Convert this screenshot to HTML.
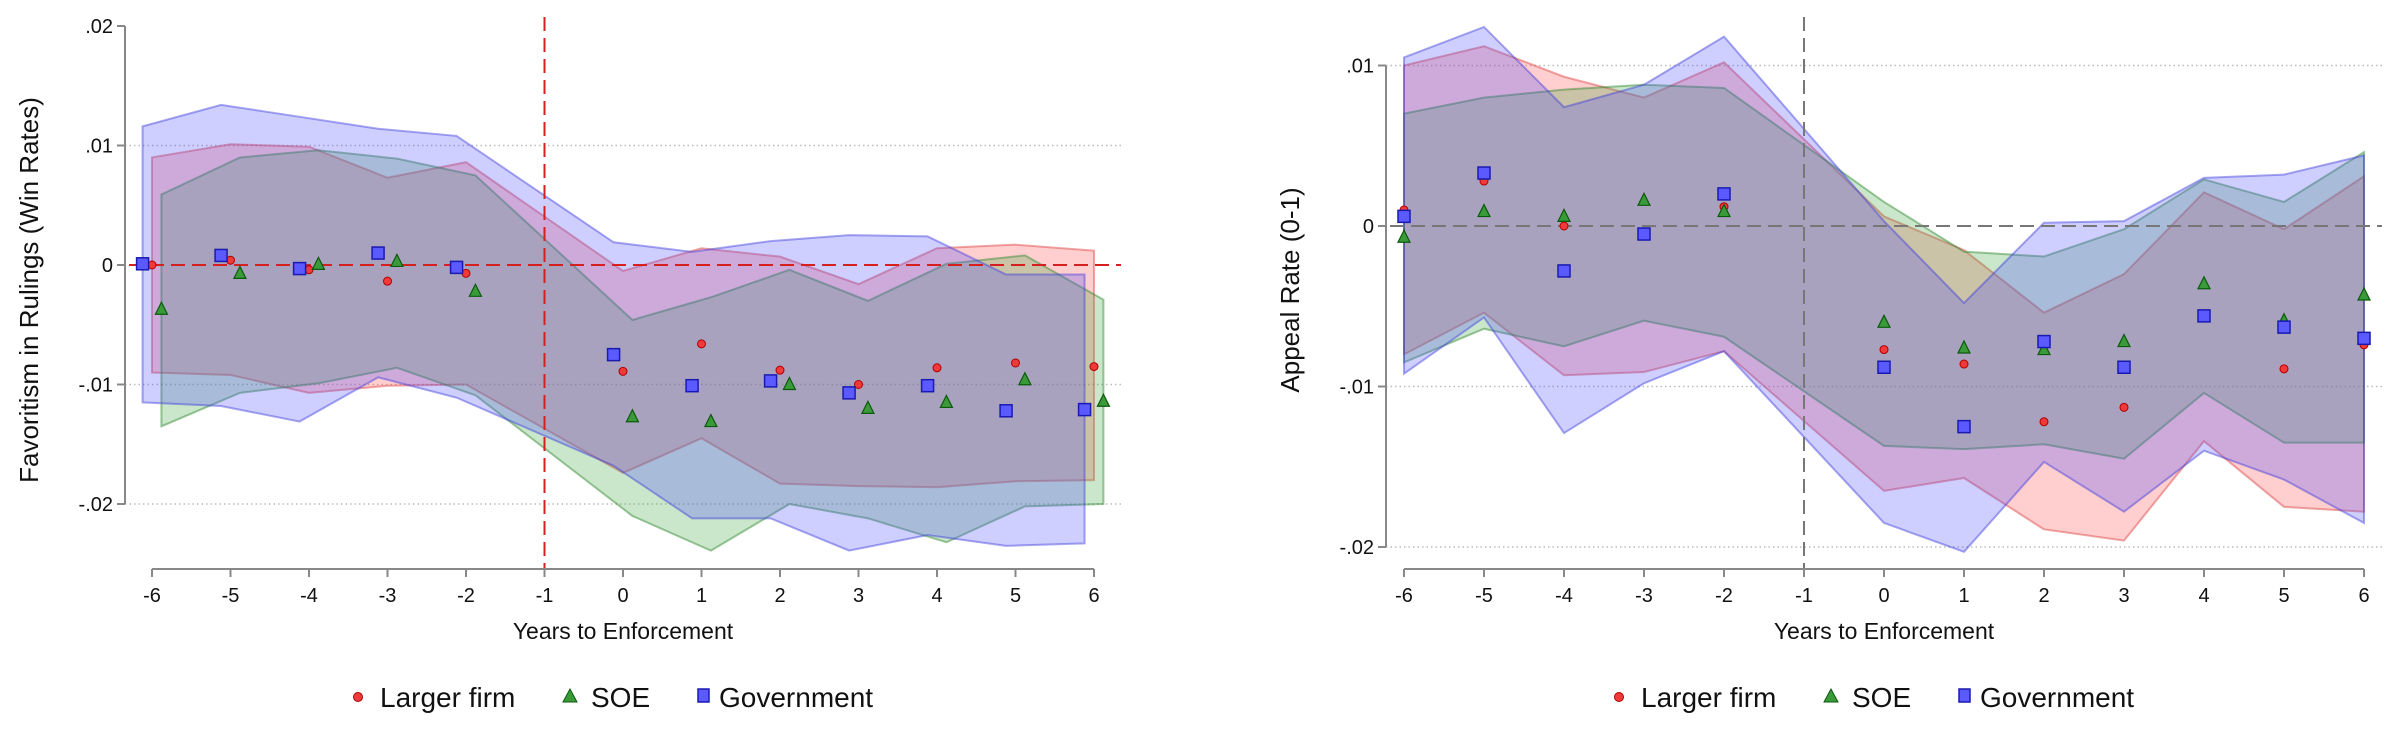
<!DOCTYPE html>
<html><head><meta charset="utf-8">
<style>
html,body{margin:0;padding:0;background:#fff;}
svg{display:block;font-family:"Liberation Sans",Arial,sans-serif;}
</style></head>
<body>
<svg id="chart" width="2400" height="746" viewBox="0 0 2400 746" xmlns="http://www.w3.org/2000/svg"></svg>
<script>
// ---------- data (values in units of 0.001) ----------
const years = [-6,-5,-4,-3,-2,0,1,2,3,4,5,6];
const xTicks = [-6,-5,-4,-3,-2,-1,0,1,2,3,4,5,6];

// Left panel: favoritism in rulings
const L_firm = [0,0.4,-0.4,-1.35,-0.7,-8.9,-6.6,-8.8,-10.0,-8.6,-8.2,-8.5];
const L_soe  = [-3.7,-0.7,0.05,0.3,-2.2,-12.7,-13.1,-10.0,-12.0,-11.5,-9.6,-11.4];
const L_gov  = [0.1,0.8,-0.3,1.0,-0.2,-7.5,-10.1,-9.7,-10.7,-10.1,-12.2,-12.1];
const L_firm_hi = [9.0,10.1,9.9,7.3,8.6,-0.5,1.4,0.7,-1.6,1.4,1.7,1.2];
const L_firm_lo = [-9.0,-9.2,-10.7,-10.1,-10.0,-17.4,-14.5,-18.3,-18.5,-18.6,-18.1,-18.0];
const L_soe_hi  = [5.9,9.0,9.6,8.9,7.5,-4.6,-2.7,-0.4,-3.0,0.1,0.8,-2.9];
const L_soe_lo  = [-13.5,-10.7,-9.9,-8.6,-10.9,-21.0,-23.9,-20.0,-21.2,-23.2,-20.2,-20.0];
const L_gov_hi  = [11.6,13.4,12.4,11.4,10.8,1.9,1.1,2.0,2.5,2.4,-0.8,-0.8];
const L_gov_lo  = [-11.5,-11.8,-13.1,-9.4,-11.1,-16.8,-21.2,-21.2,-23.9,-22.6,-23.5,-23.3];
const L_yTicks = [20,10,0,-10,-20];
const L_yLabels = [".02",".01","0","-.01","-.02"];

// Right panel: appeal rate
const R_firm = [1.0,2.8,0,-0.6,1.2,-7.7,-8.6,-12.2,-11.3,-5.6,-8.9,-7.4];
const R_soe  = [-0.7,0.9,0.6,1.6,0.9,-6.0,-7.6,-7.7,-7.2,-3.6,-5.9,-4.3];
const R_gov  = [0.6,3.3,-2.8,-0.5,2.0,-8.8,-12.5,-7.2,-8.8,-5.6,-6.3,-7.0];
const R_firm_hi = [10.0,11.2,9.3,8.0,10.2,0.6,-1.5,-5.4,-3.0,2.1,-0.2,3.1];
const R_firm_lo = [-8.0,-5.4,-9.3,-9.1,-7.8,-16.5,-15.7,-18.9,-19.6,-13.4,-17.5,-17.8];
const R_soe_hi  = [7.0,8.0,8.5,8.8,8.6,1.5,-1.6,-1.9,-0.2,2.9,1.5,4.6];
const R_soe_lo  = [-8.5,-6.4,-7.5,-5.9,-6.9,-13.7,-13.9,-13.6,-14.5,-10.4,-13.5,-13.5];
const R_gov_hi  = [10.5,12.4,7.4,8.8,11.8,0.3,-4.8,0.2,0.3,3.0,3.2,4.4];
const R_gov_lo  = [-9.2,-5.7,-12.9,-9.8,-7.8,-18.5,-20.3,-14.7,-17.8,-14.0,-15.8,-18.5];
const R_yTicks = [10,0,-10,-20];
const R_yLabels = [".01","0","-.01","-.02"];

const NS="http://www.w3.org/2000/svg";
const svg=document.getElementById('chart');
function mk(tag,attrs,parent){const e=document.createElementNS(NS,tag);for(const k in attrs)e.setAttribute(k,attrs[k]);(parent||svg).appendChild(e);return e;}

const COL={firm:{fill:'rgba(255,80,80,0.28)',line:'rgba(220,60,60,0.45)',mf:'#f03a3a',ms:'#b00000'},
 soe:{fill:'rgba(70,170,70,0.28)',line:'rgba(40,130,40,0.45)',mf:'#3a9a3a',ms:'#0b5a0b'},
 gov:{fill:'rgba(80,80,255,0.28)',line:'rgba(60,60,220,0.45)',mf:'#5a5aff',ms:'#1a1ab0'}};

function panel(cfg){
  const g=mk('g',{});
  
  
  const X=v=>cfg.x0+(v+6)*(cfg.x1-cfg.x0)/12;
  const Y=v=>cfg.y0-v*cfg.pxPerUnit;
  cfg.grid.forEach(v=>{const l=mk('line',{x1:cfg.axX,x2:cfg.gridEnd,y1:Y(v),y2:Y(v),stroke:'#bbb','stroke-width':1.5,'stroke-dasharray':'1.5 3'},g);
    });
  const series=[['firm',cfg.firm,cfg.firm_hi,cfg.firm_lo,0],['soe',cfg.soe,cfg.soe_hi,cfg.soe_lo,cfg.off],['gov',cfg.gov,cfg.gov_hi,cfg.gov_lo,-cfg.off]];
  series.forEach(([k,pts,hi,lo,off])=>{
    let d='';years.forEach((yr,i)=>{d+=(i?'L':'M')+X(yr+off)+','+Y(hi[i]);});
    for(let i=years.length-1;i>=0;i--)d+='L'+X(years[i]+off)+','+Y(lo[i]);d+='Z';
    const p=mk('path',{d:d,fill:COL[k].fill,stroke:COL[k].line,'stroke-width':2},g);
    
  });
  const z=mk('line',{x1:cfg.axX+4,x2:cfg.gridEnd,y1:Y(0),y2:Y(0),stroke:cfg.refCol,'stroke-width':2,'stroke-dasharray':'14 7'},g);
  
  const v=mk('line',{x1:X(-1),x2:X(-1),y1:cfg.vTop,y2:cfg.axY,stroke:cfg.refCol,'stroke-width':2,'stroke-dasharray':'14 7'},g);
  
  series.forEach(([k,pts,hi,lo,off])=>{
    years.forEach((yr,i)=>{
      const cx=X(yr+off),cy=Y(pts[i]);let m;
      if(k==='firm')m=mk('circle',{cx:cx,cy:cy,r:4,fill:COL[k].mf,stroke:COL[k].ms,'stroke-width':1},g);
      else if(k==='soe')m=mk('polygon',{points:`${cx},${cy-7} ${cx-6},${cy+5} ${cx+6},${cy+5}`,fill:COL[k].mf,stroke:COL[k].ms,'stroke-width':1.2},g);
      else m=mk('rect',{x:cx-6,y:cy-6,width:12,height:12,fill:COL[k].mf,stroke:COL[k].ms,'stroke-width':1.5},g);
      
    });
  });
  const ya=mk('line',{x1:cfg.axX,x2:cfg.axX,y1:Y(cfg.yTicks[0]),y2:Y(cfg.yTicks[cfg.yTicks.length-1]),stroke:'#888','stroke-width':2},g);
  
  cfg.yTicks.forEach((t,i)=>{
    mk('line',{x1:cfg.axX-8,x2:cfg.axX,y1:Y(t),y2:Y(t),stroke:'#888','stroke-width':2},g);
    const tx=mk('text',{x:cfg.axX-12,y:Y(t)+7,'text-anchor':'end','font-size':20,fill:'#111'},g);
    tx.textContent=cfg.yLabels[i];
  });
  const xa=mk('line',{x1:X(-6),x2:X(6),y1:cfg.axY,y2:cfg.axY,stroke:'#888','stroke-width':2},g);
  
  xTicks.forEach(t=>{
    mk('line',{x1:X(t),x2:X(t),y1:cfg.axY,y2:cfg.axY+8,stroke:'#888','stroke-width':2},g);
    const tx=mk('text',{x:X(t),y:cfg.axY+33,'text-anchor':'middle','font-size':20,fill:'#111'},g);
    tx.textContent=t;
  });
  const xt=mk('text',{x:X(0),y:639,'text-anchor':'middle','font-size':23,fill:'#111'},g);
  xt.textContent='Years to Enforcement';
  const yt=mk('text',{x:0,y:0,'text-anchor':'middle','font-size':26,fill:'#111',transform:`translate(${cfg.ytX},${cfg.ytY}) rotate(-90)`},g);
  yt.textContent=cfg.yTitle;
  const lg=mk('g',{},g);
  const ly=707;const lx=cfg.legX;
  const c=mk('circle',{cx:lx,cy:ly-10,r:4.5,fill:COL.firm.mf,stroke:COL.firm.ms},lg);
  let t=mk('text',{x:lx+22,y:ly,'font-size':28,fill:'#111'},lg);t.textContent='Larger firm';
  const tri=mk('polygon',{points:`${lx+212},${ly-18} ${lx+205},${ly-5} ${lx+219},${ly-5}`,fill:COL.soe.mf,stroke:COL.soe.ms},lg);
  t=mk('text',{x:lx+233,y:ly,'font-size':28,fill:'#111'},lg);t.textContent='SOE';
  const sq=mk('rect',{x:lx+340,y:ly-18,width:11,height:13,fill:COL.gov.mf,stroke:COL.gov.ms,'stroke-width':1.5},lg);
  t=mk('text',{x:lx+361,y:ly,'font-size':28,fill:'#111'},lg);t.textContent='Government';
}

panel({name:'favoritism-panel',x0:152,x1:1094,y0:265,pxPerUnit:11.95,axX:125,axY:569,gridEnd:1121,vTop:17,
  grid:[10,-10,-20],off:0.12,refCol:'#d62020',
  firm:L_firm,soe:L_soe,gov:L_gov,firm_hi:L_firm_hi,firm_lo:L_firm_lo,soe_hi:L_soe_hi,soe_lo:L_soe_lo,gov_hi:L_gov_hi,gov_lo:L_gov_lo,
  yTicks:L_yTicks,yLabels:L_yLabels,yTitle:'Favoritism in Rulings (Win Rates)',ytX:38,ytY:290,legX:358});
panel({name:'appeal-rate-panel',x0:1404,x1:2364,y0:226,pxPerUnit:16.05,axX:1386,axY:569,gridEnd:2382,vTop:17,
  grid:[10,-10,-20],off:0,refCol:'#777',
  firm:R_firm,soe:R_soe,gov:R_gov,firm_hi:R_firm_hi,firm_lo:R_firm_lo,soe_hi:R_soe_hi,soe_lo:R_soe_lo,gov_hi:R_gov_hi,gov_lo:R_gov_lo,
  yTicks:R_yTicks,yLabels:R_yLabels,yTitle:'Appeal Rate (0-1)',ytX:1299,ytY:290,legX:1619});
</script>
</body></html>
